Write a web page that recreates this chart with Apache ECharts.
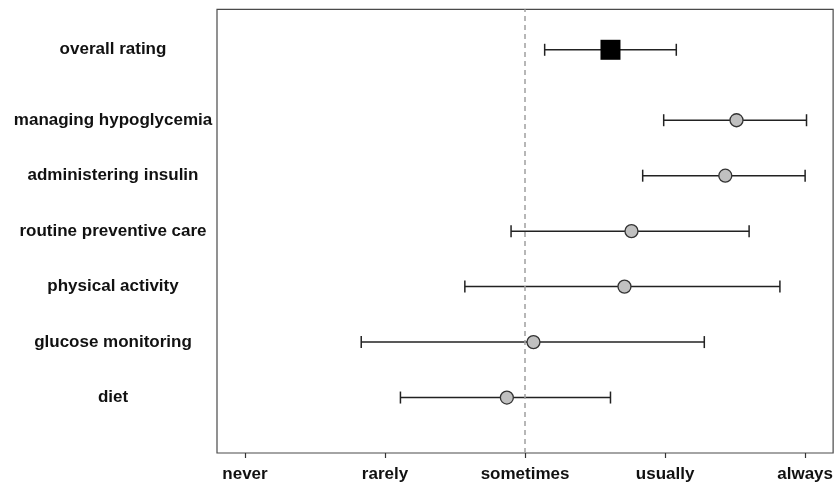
<!DOCTYPE html>
<html>
<head>
<meta charset="utf-8">
<script src="https://cdn.jsdelivr.net/npm/echarts@6/dist/echarts.min.js"></script>
<style>
  html, body { margin: 0; padding: 0; background: #fff; }
  #chart { width: 836px; height: 485px; }
</style>
</head>
<body>
<div id="chart"></div>
<script>
// rows, top to bottom
const items = ['overall rating', 'managing hypoglycemia', 'administering insulin',
  'routine preventive care', 'physical activity', 'glucose monitoring', 'diet']
const rowPos = [7.27, 6, 5, 4, 3, 2, 1]
const means = [2.61, 3.51, 3.43, 2.76, 2.71, 2.06, 1.87]
const lower = [2.14, 2.99, 2.84, 1.90, 1.57, 0.83, 1.11]
const upper = [3.08, 4.01, 4.00, 3.60, 3.82, 3.28, 2.61]
const scaleLabels = ['never', 'rarely', 'sometimes', 'usually', 'always']

const font = 'Liberation Sans, Arial, sans-serif'

const chart = echarts.init(document.getElementById('chart'))

const errData = items.map((_, i) => [lower[i], upper[i], rowPos[i]])

chart.setOption({
  animation: false,
  grid: {
    left: 217, right: 0.7, top: 9.3, bottom: 32,
    show: true, borderColor: '#4a4a4a', borderWidth: 1.2,
  },
  xAxis: {
    type: 'value', min: -0.2, max: 4.2,
    axisLine: { show: false },
    axisTick: { show: true, length: 5, lineStyle: { color: '#333', width: 1.2 }, customValues: [0, 1, 2, 3, 4] },
    axisLabel: {
      customValues: [0, 1, 2, 3, 4],
      formatter: (v) => scaleLabels[Math.round(v)],
      fontFamily: font, fontWeight: 'bold', fontSize: 17, color: '#111', margin: 13,
    },
    splitLine: { show: false },
  },
  yAxis: {
    type: 'value', min: 0, max: 8,
    axisLine: { show: false },
    axisTick: { show: false },
    splitLine: { show: false },
    axisLabel: {
      customValues: rowPos,
      formatter: (v) => {
        const i = rowPos.findIndex((p) => Math.abs(p - v) < 1e-6)
        return i >= 0 ? items[i] : ''
      },
      align: 'center', margin: 104,
      fontFamily: font, fontWeight: 'bold', fontSize: 17, color: '#111',
    },
  },
  series: [
    {
      type: 'custom',
      data: errData,
      encode: { x: [0, 1], y: 2 },
      renderItem: (params, api) => {
        const a = api.coord([api.value(0), api.value(2)])
        const b = api.coord([api.value(1), api.value(2)])
        const style = { stroke: '#222', lineWidth: 1.5 }
        const cap = 6
        return {
          type: 'group',
          children: [
            { type: 'line', shape: { x1: a[0], y1: a[1], x2: b[0], y2: b[1] }, style },
            { type: 'line', shape: { x1: a[0], y1: a[1] - cap, x2: a[0], y2: a[1] + cap }, style },
            { type: 'line', shape: { x1: b[0], y1: b[1] - cap, x2: b[0], y2: b[1] + cap }, style },
          ],
        }
      },
      markLine: {
        silent: true,
        symbol: 'none',
        label: { show: false },
        lineStyle: { color: '#a0a0a0', type: [5, 4], width: 1.5 },
        data: [{ xAxis: 2 }],
      },
      z: 2,
    },
    {
      type: 'scatter',
      data: [[means[0], rowPos[0]]],
      symbol: 'rect',
      symbolSize: 20,
      itemStyle: { color: '#000', opacity: 1 },
      z: 3,
    },
    {
      type: 'scatter',
      data: means.slice(1).map((m, i) => [m, rowPos[i + 1]]),
      symbol: 'circle',
      symbolSize: 13,
      itemStyle: { color: '#c0c0c0', borderColor: '#333', borderWidth: 1.3, opacity: 1 },
      z: 3,
    },
  ],
})
</script>
</body>
</html>
